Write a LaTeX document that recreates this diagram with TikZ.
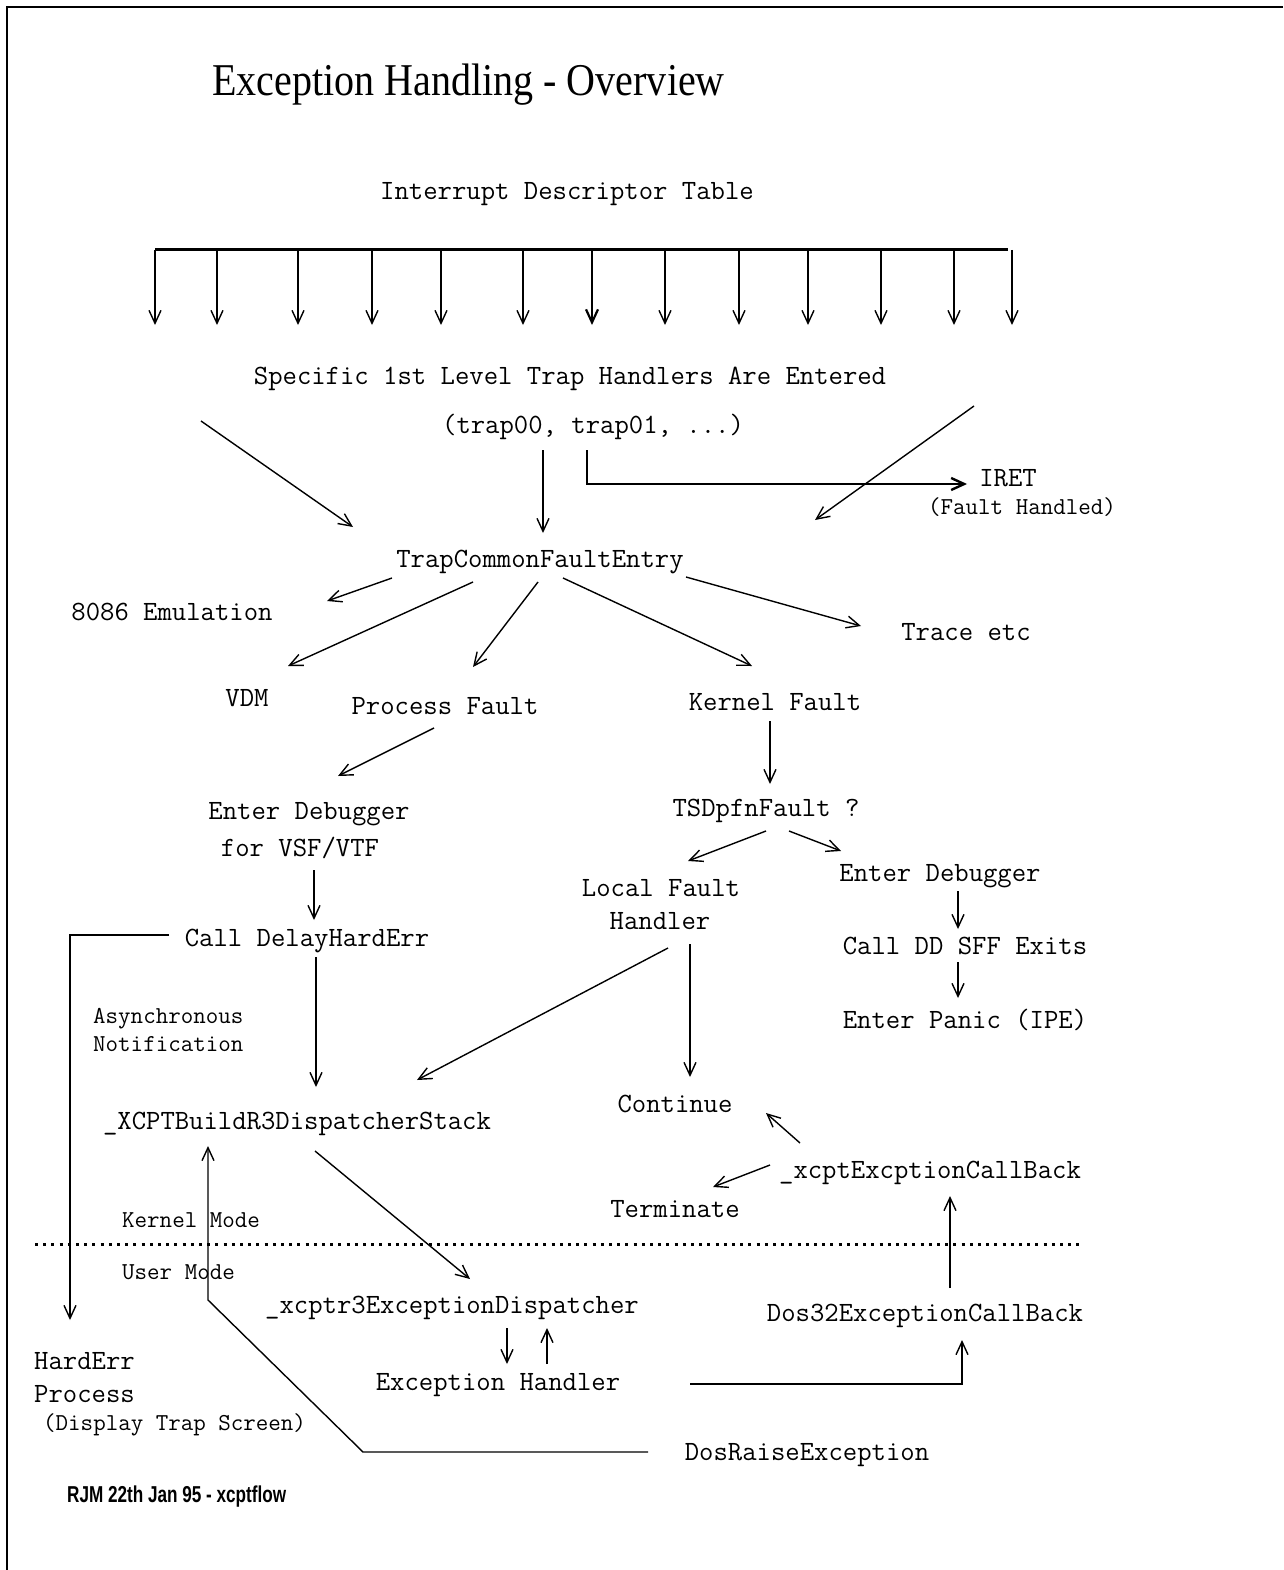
\documentclass[tikz,border=0pt]{standalone}
\usepackage{fontspec}
\setmainfont{Liberation Serif}
\newfontfamily\notefont{Liberation Sans}
\usetikzlibrary{arrows.meta}

\begin{document}
\begin{tikzpicture}[x=1pt,y=-1pt,
  lbl/.style={inner sep=0pt, font=\ttfamily\fontsize{27.9}{30}\selectfont, text height=16pt, text depth=0pt},
  small/.style={inner sep=0pt, font=\ttfamily\fontsize{24.3}{26}\selectfont, text height=14pt, text depth=0pt},
  flow/.style={line width=1.4pt, -{Straight Barb[length=13pt,width=12pt]}},
  heavyflow/.style={line width=2.4pt, -{Straight Barb[length=13pt,width=12pt]}},
  plain/.style={line width=1.4pt}
]
\useasboundingbox (0,0) rectangle (1283,1570);

% page frame (top and left edges)
\draw[line width=2pt] (1283,7) -- (7,7) -- (7,1570);

% title and footer
\node[anchor=base west, inner sep=0pt, font=\fontsize{45.5}{50}\selectfont] (title) at (212,96)
  {\scalebox{0.88}[1]{Exception Handling - Overview}};
\node[anchor=base west, inner sep=0pt, font=\notefont\bfseries\fontsize{23}{26}\selectfont] (foot) at (67,1502)
  {\scalebox{0.745}[1]{RJM 22th Jan 95 - xcptflow}};

% labels
\node[lbl] (idt) at (567,192) {Interrupt Descriptor Table};
\node[lbl] (spec) at (570,376) {Specific 1st Level Trap Handlers Are Entered};
\node[lbl] (traps) at (593,425) {(trap00, trap01, ...)};
\node[lbl] (iret) at (1008,478) {IRET};
\node[small] (fhandled) at (1022,507) {(Fault Handled)};
\node[lbl] (tcfe) at (540,559) {TrapCommonFaultEntry};
\node[lbl] (emu) at (172,612) {8086 Emulation};
\node[lbl] (trace) at (966,632) {Trace etc};
\node[lbl] (vdm) at (247,698) {VDM};
\node[lbl] (pfault) at (445,706) {Process Fault};
\node[lbl] (kfault) at (775,702) {Kernel Fault};
\node[lbl] (tsd) at (766,808) {TSDpfnFault ?};
\node[lbl] (dbg1) at (309,811) {Enter Debugger};
\node[lbl] (vsf) at (300,848) {for VSF/VTF};
\node[lbl] (lfault) at (661,888) {Local Fault};
\node[lbl] (handler) at (660,921) {Handler};
\node[lbl] (dbg2) at (940,873) {Enter Debugger};
\node[lbl] (ddsff) at (965,946) {Call DD SFF Exits};
\node[lbl] (panic) at (965,1020) {Enter Panic (IPE)};
\node[lbl] (delay) at (307,938) {Call DelayHardErr};
\node[small, anchor=west] (async) at (93,1016) {Asynchronous};
\node[small, anchor=west] (notif) at (93,1044) {Notification};
\node[lbl] (build) at (297,1121) {\_XCPTBuildR3DispatcherStack};
\node[lbl] (cont) at (675,1104) {Continue};
\node[lbl] (xcb) at (930,1170) {\_xcptExcptionCallBack};
\node[lbl] (term) at (675,1209) {Terminate};
\node[small, anchor=west] (kmode) at (122,1220) {Kernel Mode};
\node[small, anchor=west] (umode) at (122,1272) {User Mode};
\node[lbl] (disp) at (452,1305) {\_xcptr3ExceptionDispatcher};
\node[lbl] (dos32) at (925,1313) {Dos32ExceptionCallBack};
\node[lbl, anchor=west] (harderr) at (34,1361) {HardErr};
\node[lbl, anchor=west] (process) at (34,1394) {Process};
\node[small, anchor=west] (display) at (43,1423) {(Display Trap Screen)};
\node[lbl] (exh) at (498,1382) {Exception Handler};
\node[lbl] (raise) at (807,1452) {DosRaiseException};

% interrupt descriptor table bar and its vectors
\draw[line width=3pt] ([shift={(-412,58)}]idt.center) -- ([shift={(441,58)}]idt.center);
\foreach \x in {155,217,298,372,441,523,665,739,808,881,954,1012}
  \draw[flow] ([shift={(\x-567,58)}]idt.center) -- ([shift={(\x-570,-51)}]spec.center);
\draw[flow, line width=2.2pt] ([shift={(25,58)}]idt.center) -- ([shift={(22,-51)}]spec.center);

% first level handlers
\draw[flow] ([shift={(-369,45)}]spec.center) -- ([shift={(-187,-32)}]tcfe.center);
\draw[flow] ([shift={(-50,25)}]traps.center) -- ([shift={(3,-26)}]tcfe.center);
\draw[heavyflow] ([shift={(-6,25)}]traps.center) |- ([shift={(-41,6)}]iret.center);
\draw[flow] ([shift={(404,30)}]spec.center) -- ([shift={(275,-39)}]tcfe.center);

% fan out of the common fault entry
\draw[flow] ([shift={(-148,19)}]tcfe.center) -- ([shift={(155,-11)}]emu.center);
\draw[flow] ([shift={(-67,23)}]tcfe.center) -- ([shift={(41,-32)}]vdm.center);
\draw[flow] ([shift={(-2,23)}]tcfe.center) -- ([shift={(28,-39)}]pfault.center);
\draw[flow] ([shift={(23,19)}]tcfe.center) -- ([shift={(-23,-36)}]kfault.center);
\draw[flow] ([shift={(146,18)}]tcfe.center) -- ([shift={(-105,-6)}]trace.center);

% process fault path
\draw[flow] ([shift={(-11,22)}]pfault.center) -- ([shift={(29,-35)}]dbg1.center);
\draw[flow] ([shift={(14,22)}]vsf.center) -- ([shift={(7,-18)}]delay.center);
\draw[flow] ([shift={(-138,-3)}]delay.center) -| ([shift={(36,-41)}]harderr.west);
\draw[flow] ([shift={(9,19)}]delay.center) -- ([shift={(19,-34)}]build.center);

% kernel fault path
\draw[flow] ([shift={(-5,19)}]kfault.center) -- ([shift={(4,-24)}]tsd.center);
\draw[flow] ([shift={(0,23)}]tsd.center) -- ([shift={(27,-27)}]lfault.center);
\draw[flow] ([shift={(23,23)}]tsd.center) -- ([shift={(-99,-22)}]dbg2.center);
\draw[flow] ([shift={(18,18)}]dbg2.center) -- ([shift={(-7,-17)}]ddsff.center);
\draw[flow] ([shift={(-7,16)}]ddsff.center) -- ([shift={(-7,-22)}]panic.center);
\draw[flow] ([shift={(8,27)}]handler.center) -- ([shift={(120,-41)}]build.center);
\draw[flow] ([shift={(30,23)}]handler.center) -- ([shift={(15,-27)}]cont.center);

% callback outcomes
\draw[flow] ([shift={(-130,-27)}]xcb.center) -- ([shift={(91,9)}]cont.center);
\draw[flow] ([shift={(-160,-5)}]xcb.center) -- ([shift={(38,-22)}]term.center);

% kernel / user boundary
\draw[line width=3pt, dash pattern=on 3pt off 5.2pt] (35,1244) -- (1082,1244);

% ring 3 dispatch
\draw[flow] ([shift={(18,30)}]build.center) -- ([shift={(18,-26)}]disp.center);
\draw[flow] ([shift={(55,23)}]disp.center) -- ([shift={(9,-18)}]exh.center);
\draw[flow] ([shift={(49,-18)}]exh.center) -- ([shift={(95,23)}]disp.center);
\draw[flow] ([shift={(192,2)}]exh.center) -| ([shift={(37,27)}]dos32.center);
\draw[flow] ([shift={(25,-25)}]dos32.center) -- ([shift={(20,26)}]xcb.center);
\draw[flow] ([shift={(-159,0)}]raise.center) -- (363,1452) -- (208,1300) -- ([shift={(-89,25)}]build.center);
\end{tikzpicture}
\end{document}
